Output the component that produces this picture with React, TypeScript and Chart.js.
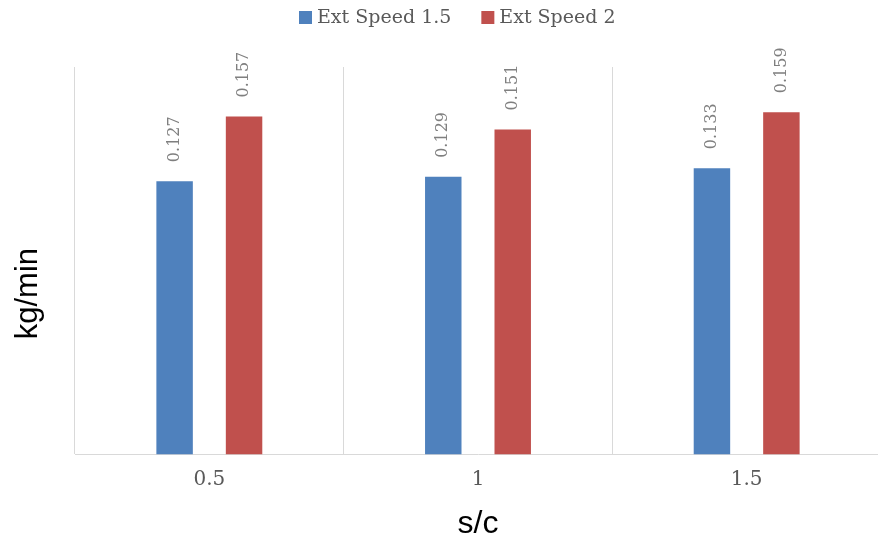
import React, { useEffect, useRef } from 'react';
import { Chart, registerables } from 'chart.js';

Chart.register(...registerables);

const categories = ['0.5', '1', '1.5'];
const seriesNames = ['Ext Speed 1.5', 'Ext Speed 2'];
const extSpeed15 = [0.127, 0.129, 0.133];
const extSpeed2 = [0.157, 0.151, 0.159];
const seriesColors = ['#4F81BD', '#C0504D'];
const yMin = 0;
const yMax = 0.18;
const xTitle = 's/c';
const yTitle = 'kg/min';

const SERIF = '"DejaVu Serif", "Liberation Serif", serif';
const SANS = '"Liberation Sans", Arial, sans-serif';

const dataLabelPlugin = {
  id: 'rotatedDataLabels',
  afterDatasetsDraw(chart: any) {
    const ctx = chart.ctx;
    ctx.save();
    ctx.font = `16px ${SERIF}`;
    ctx.fillStyle = '#7F7F7F';
    ctx.textAlign = 'left';
    ctx.textBaseline = 'middle';
    chart.data.datasets.forEach((ds: any, di: number) => {
      const meta = chart.getDatasetMeta(di);
      meta.data.forEach((bar: any, i: number) => {
        const v = ds.data[i];
        ctx.save();
        ctx.translate(bar.x, bar.y - 19);
        ctx.rotate(-Math.PI / 2);
        ctx.fillText(v.toFixed(3), 0, 0);
        ctx.restore();
      });
    });
    ctx.restore();
  },
};

const legendPlugin = {
  id: 'topLegend',
  afterDraw(chart: any) {
    const ctx = chart.ctx;
    ctx.save();
    ctx.font = `19px ${SERIF}`;
    ctx.textBaseline = 'middle';
    ctx.textAlign = 'left';
    let x = 299;
    const y = 18;
    chart.data.datasets.forEach((ds: any) => {
      ctx.fillStyle = ds.backgroundColor;
      ctx.fillRect(x, y - 7, 13, 13);
      ctx.fillStyle = '#595959';
      ctx.fillText(ds.label, x + 18, y);
      x += 18 + ctx.measureText(ds.label).width + 30;
    });
    ctx.restore();
  },
};

const yTitlePlugin = {
  id: 'yAxisTitle',
  afterDraw(chart: any) {
    const ctx = chart.ctx;
    ctx.save();
    ctx.font = `31px ${SANS}`;
    ctx.fillStyle = '#000000';
    ctx.textAlign = 'center';
    ctx.textBaseline = 'middle';
    ctx.translate(28, chart.chartArea.bottom - 161);
    ctx.rotate(-Math.PI / 2);
    ctx.fillText(yTitle, 0, 0);
    ctx.restore();
  },
};

export default function App() {
  const ref = useRef<HTMLCanvasElement | null>(null);

  useEffect(() => {
    document.body.style.margin = '0';
    const canvas = ref.current;
    if (!canvas) return;
    const chart = new Chart(canvas, {
      type: 'bar',
      data: {
        labels: categories,
        datasets: [
          {
            label: seriesNames[0],
            data: extSpeed15,
            backgroundColor: seriesColors[0],
            categoryPercentage: 0.517,
            barPercentage: 0.525,
          },
          {
            label: seriesNames[1],
            data: extSpeed2,
            backgroundColor: seriesColors[1],
            categoryPercentage: 0.517,
            barPercentage: 0.525,
          },
        ],
      },
      options: {
        responsive: false,
        animation: false,
        devicePixelRatio: 1,
        layout: { padding: { top: 67, left: 67, right: 0, bottom: 0 } },
        plugins: {
          legend: { display: false },
          tooltip: { enabled: false },
        },
        scales: {
          x: {
            grid: { display: true, color: '#D9D9D9', drawTicks: false, offset: true },
            border: { display: true, color: '#D9D9D9' },
            ticks: {
              color: '#595959',
              font: { family: SERIF, size: 20 },
              padding: 13,
              maxRotation: 0,
              minRotation: 0,
            },
            title: {
              display: true,
              text: xTitle,
              color: '#000000',
              font: { family: SANS, size: 32 },
              padding: { top: 0, bottom: 2 },
            },
          },
          y: {
            min: yMin,
            max: yMax,
            grid: { display: false },
            border: { display: false },
            ticks: { display: false },
            title: { display: false },
          },
        },
      },
      plugins: [dataLabelPlugin, legendPlugin, yTitlePlugin],
    });
    return () => chart.destroy();
  }, []);

  return (
    <div style={{ width: 878, height: 545, overflow: 'hidden', background: '#FFFFFF' }}>
      <canvas ref={ref} width={881} height={545} style={{ display: 'block' }} />
    </div>
  );
}
